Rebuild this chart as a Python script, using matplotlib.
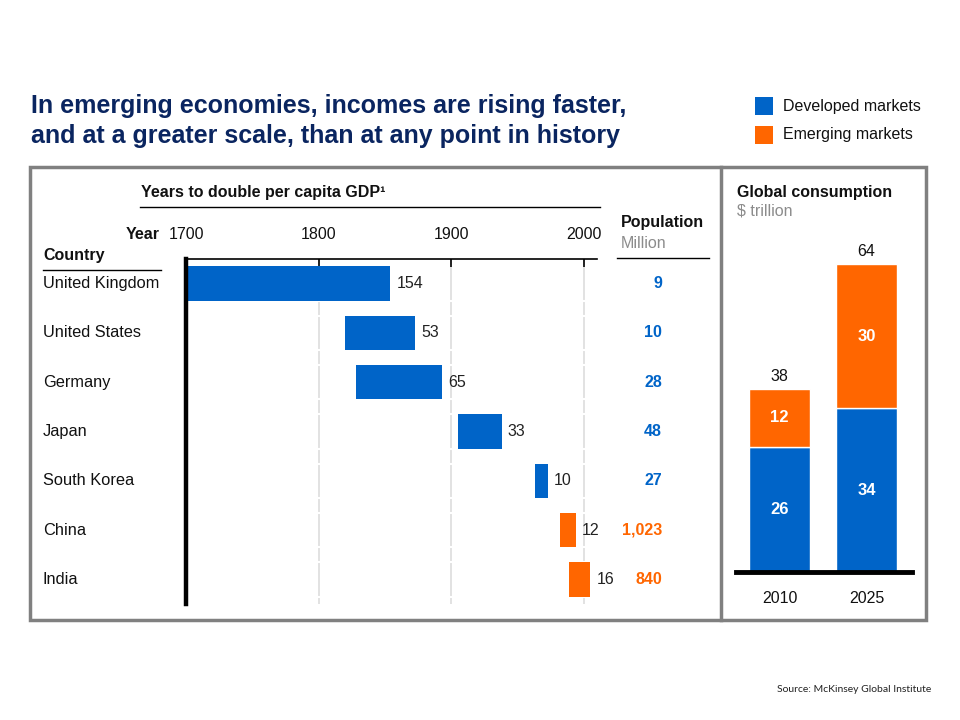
import matplotlib
matplotlib.use("Agg")
import matplotlib.pyplot as plt
from matplotlib.patches import Rectangle
from matplotlib.lines import Line2D
import matplotlib.transforms as mtransforms

plt.rcParams['font.family'] = ['Liberation Sans', 'DejaVu Sans']

# ---------------- data ----------------
countries = ['United Kingdom', 'United States', 'Germany', 'Japan',
             'South Korea', 'China', 'India']
start_years = [1700, 1820, 1828, 1905, 1963, 1982, 1989]
years_to_double = [154, 53, 65, 33, 10, 12, 16]
population = [9, 10, 28, 48, 27, 1023, 840]
market_group = ['Developed', 'Developed', 'Developed', 'Developed',
                'Developed', 'Emerging', 'Emerging']
year_ticks = [1700, 1800, 1900, 2000]

consumption_years = ['2010', '2025']
developed_consumption = [26, 34]
emerging_consumption = [12, 30]

title_lines = ["In emerging economies, incomes are rising faster,",
               "and at a greater scale, than at any point in history"]

# ---------------- style ----------------
BLUE = '#0064C8'
ORANGE = '#FF6600'
NAVY = '#0A2560'
GRAY_TXT = '#8C8C8C'
BOX_GRAY = '#808080'
colors = {'Developed': BLUE, 'Emerging': ORANGE}

W, H = 960, 720
fig = plt.figure(figsize=(9.6, 7.2), dpi=100)


def fx(x):
    return x / W


def fy(y):
    return 1 - y / H


def ftext(x, y, s, **kw):
    return fig.text(fx(x), fy(y), s, **kw)


def fline(x0, y0, x1, y1, **kw):
    fig.add_artist(Line2D([fx(x0), fx(x1)], [fy(y0), fy(y1)],
                          transform=fig.transFigure, **kw))


# Title
ftext(31, 113, title_lines[0], fontsize=18, fontweight='bold', color=NAVY, va='baseline')
ftext(31, 143, title_lines[1], fontsize=18, fontweight='bold', color=NAVY, va='baseline')

# Legend
fig.add_artist(Rectangle((fx(755), fy(115)), 18 / W, 18 / H, transform=fig.transFigure,
                         facecolor=BLUE, edgecolor='none'))
fig.add_artist(Rectangle((fx(755), fy(144)), 18 / W, 18 / H, transform=fig.transFigure,
                         facecolor=ORANGE, edgecolor='none'))
ftext(783, 106, 'Developed markets', fontsize=11.5, va='center', color='#111111')
ftext(783, 135, 'Emerging markets', fontsize=11.5, va='center', color='#111111')

# Box
fig.add_artist(Rectangle((fx(30), fy(620)), (926 - 30) / W, (620 - 167) / H,
                         transform=fig.transFigure, fill=False,
                         edgecolor=BOX_GRAY, lw=2.5))
fline(721, 167, 721, 620, color=BOX_GRAY, lw=2.5)

# ---------------- left panel ----------------
ax = fig.add_axes([fx(186), fy(604), (597 - 186) / W, (604 - 259) / H])
ax.set_xlim(1700, 2010)
ax.set_ylim(len(countries) - 0.5, -0.5)
for s in ['left', 'right', 'bottom']:
    ax.spines[s].set_visible(False)
ax.spines['top'].set_linewidth(1.2)
ax.xaxis.tick_top()
ax.set_xticks(year_ticks)
ax.set_xticklabels([str(t) for t in year_ticks], fontsize=11.5, color='#111111')
ax.tick_params(axis='x', direction='in', length=6, width=1.2, pad=12)
ax.set_yticks([])

for gx in year_ticks[1:]:
    ax.axvline(gx, color='#DDDDDD', lw=1.2, zorder=1)
for i in range(len(countries)):
    ax.hlines([i - 0.35, i + 0.35], 1700, 2010, color='white', lw=1.5, zorder=1.5)

ax.barh(range(len(countries)), years_to_double, left=start_years, height=0.7,
        color=[colors[g] for g in market_group], zorder=3)
ax.axvline(1700, color='black', lw=3.2, zorder=5, clip_on=False)

for i, (s0, d) in enumerate(zip(start_years, years_to_double)):
    ax.annotate(str(d), (s0 + d, i), xytext=(4.5, 0), textcoords='offset points',
                ha='left', va='center', fontsize=11.5, color='#222222')

blend = mtransforms.blended_transform_factory(fig.transFigure, ax.transData)
for i, c in enumerate(countries):
    ax.text(fx(43), i, c, transform=blend, ha='left', va='center',
            fontsize=11.8, color='#111111')
for i, (p, g) in enumerate(zip(population, market_group)):
    ax.text(fx(662), i, f"{p:,}", transform=blend, ha='right', va='center',
            fontsize=11.5, fontweight='bold', color=colors[g])

# headers
ftext(141, 192, 'Years to double per capita GDP¹', fontsize=11.5, fontweight='bold',
      va='center', color='#111111')
fline(140, 207, 600, 207, color='black', lw=1.0)
ftext(160, 235, 'Year', fontsize=11.5, fontweight='bold', va='center', ha='right',
      color='#111111')
ftext(43, 255, 'Country', fontsize=11.5, fontweight='bold', va='center', color='#111111')
fline(43, 270, 161, 270, color='black', lw=1.0)
ftext(621, 223, 'Population', fontsize=11.5, fontweight='bold', va='center', color='#111111')
ftext(621, 243, 'Million', fontsize=11.5, va='center', color=GRAY_TXT)
fline(617, 258, 709, 258, color='black', lw=1.0)

# ---------------- right panel ----------------
ax2 = fig.add_axes([fx(736), fy(572), (912 - 736) / W, (572 - 264) / H])
ax2.set_xlim(-0.5, 1.523)
ax2.set_ylim(0, developed_consumption[1] + emerging_consumption[1])
ax2.axis('off')
xs = range(len(consumption_years))
ax2.bar(xs, developed_consumption, width=0.70, color=BLUE, edgecolor='white', lw=1)
ax2.bar(xs, emerging_consumption, bottom=developed_consumption, width=0.70,
        color=ORANGE, edgecolor='white', lw=1)
ax2.axhline(0, color='black', lw=3.5, clip_on=False, zorder=5)
for x, d, e, yr in zip(xs, developed_consumption, emerging_consumption, consumption_years):
    ax2.text(x, d / 2, str(d), ha='center', va='center', color='white',
             fontsize=12, fontweight='bold')
    ax2.text(x, d + e / 2, str(e), ha='center', va='center', color='white',
             fontsize=12, fontweight='bold')
    ax2.annotate(str(d + e), (x, d + e), xytext=(0, 9), textcoords='offset points',
                 ha='center', va='center', fontsize=11.5, color='#111111')
    ax2.annotate(yr, (x, 0), xytext=(0, -19), textcoords='offset points',
                 ha='center', va='center', fontsize=11.5, color='#111111')

ftext(737, 192, 'Global consumption', fontsize=11.5, fontweight='bold', va='center',
      color='#111111')
ftext(737, 211, '$ trillion', fontsize=11.5, va='center', color=GRAY_TXT)

# Source
ftext(931, 690, 'Source: McKinsey Global Institute', fontsize=7.5, ha='right',
      va='center', color='#222222', family=['Lato', 'DejaVu Sans'])

fig.savefig('out.png', dpi=100)
